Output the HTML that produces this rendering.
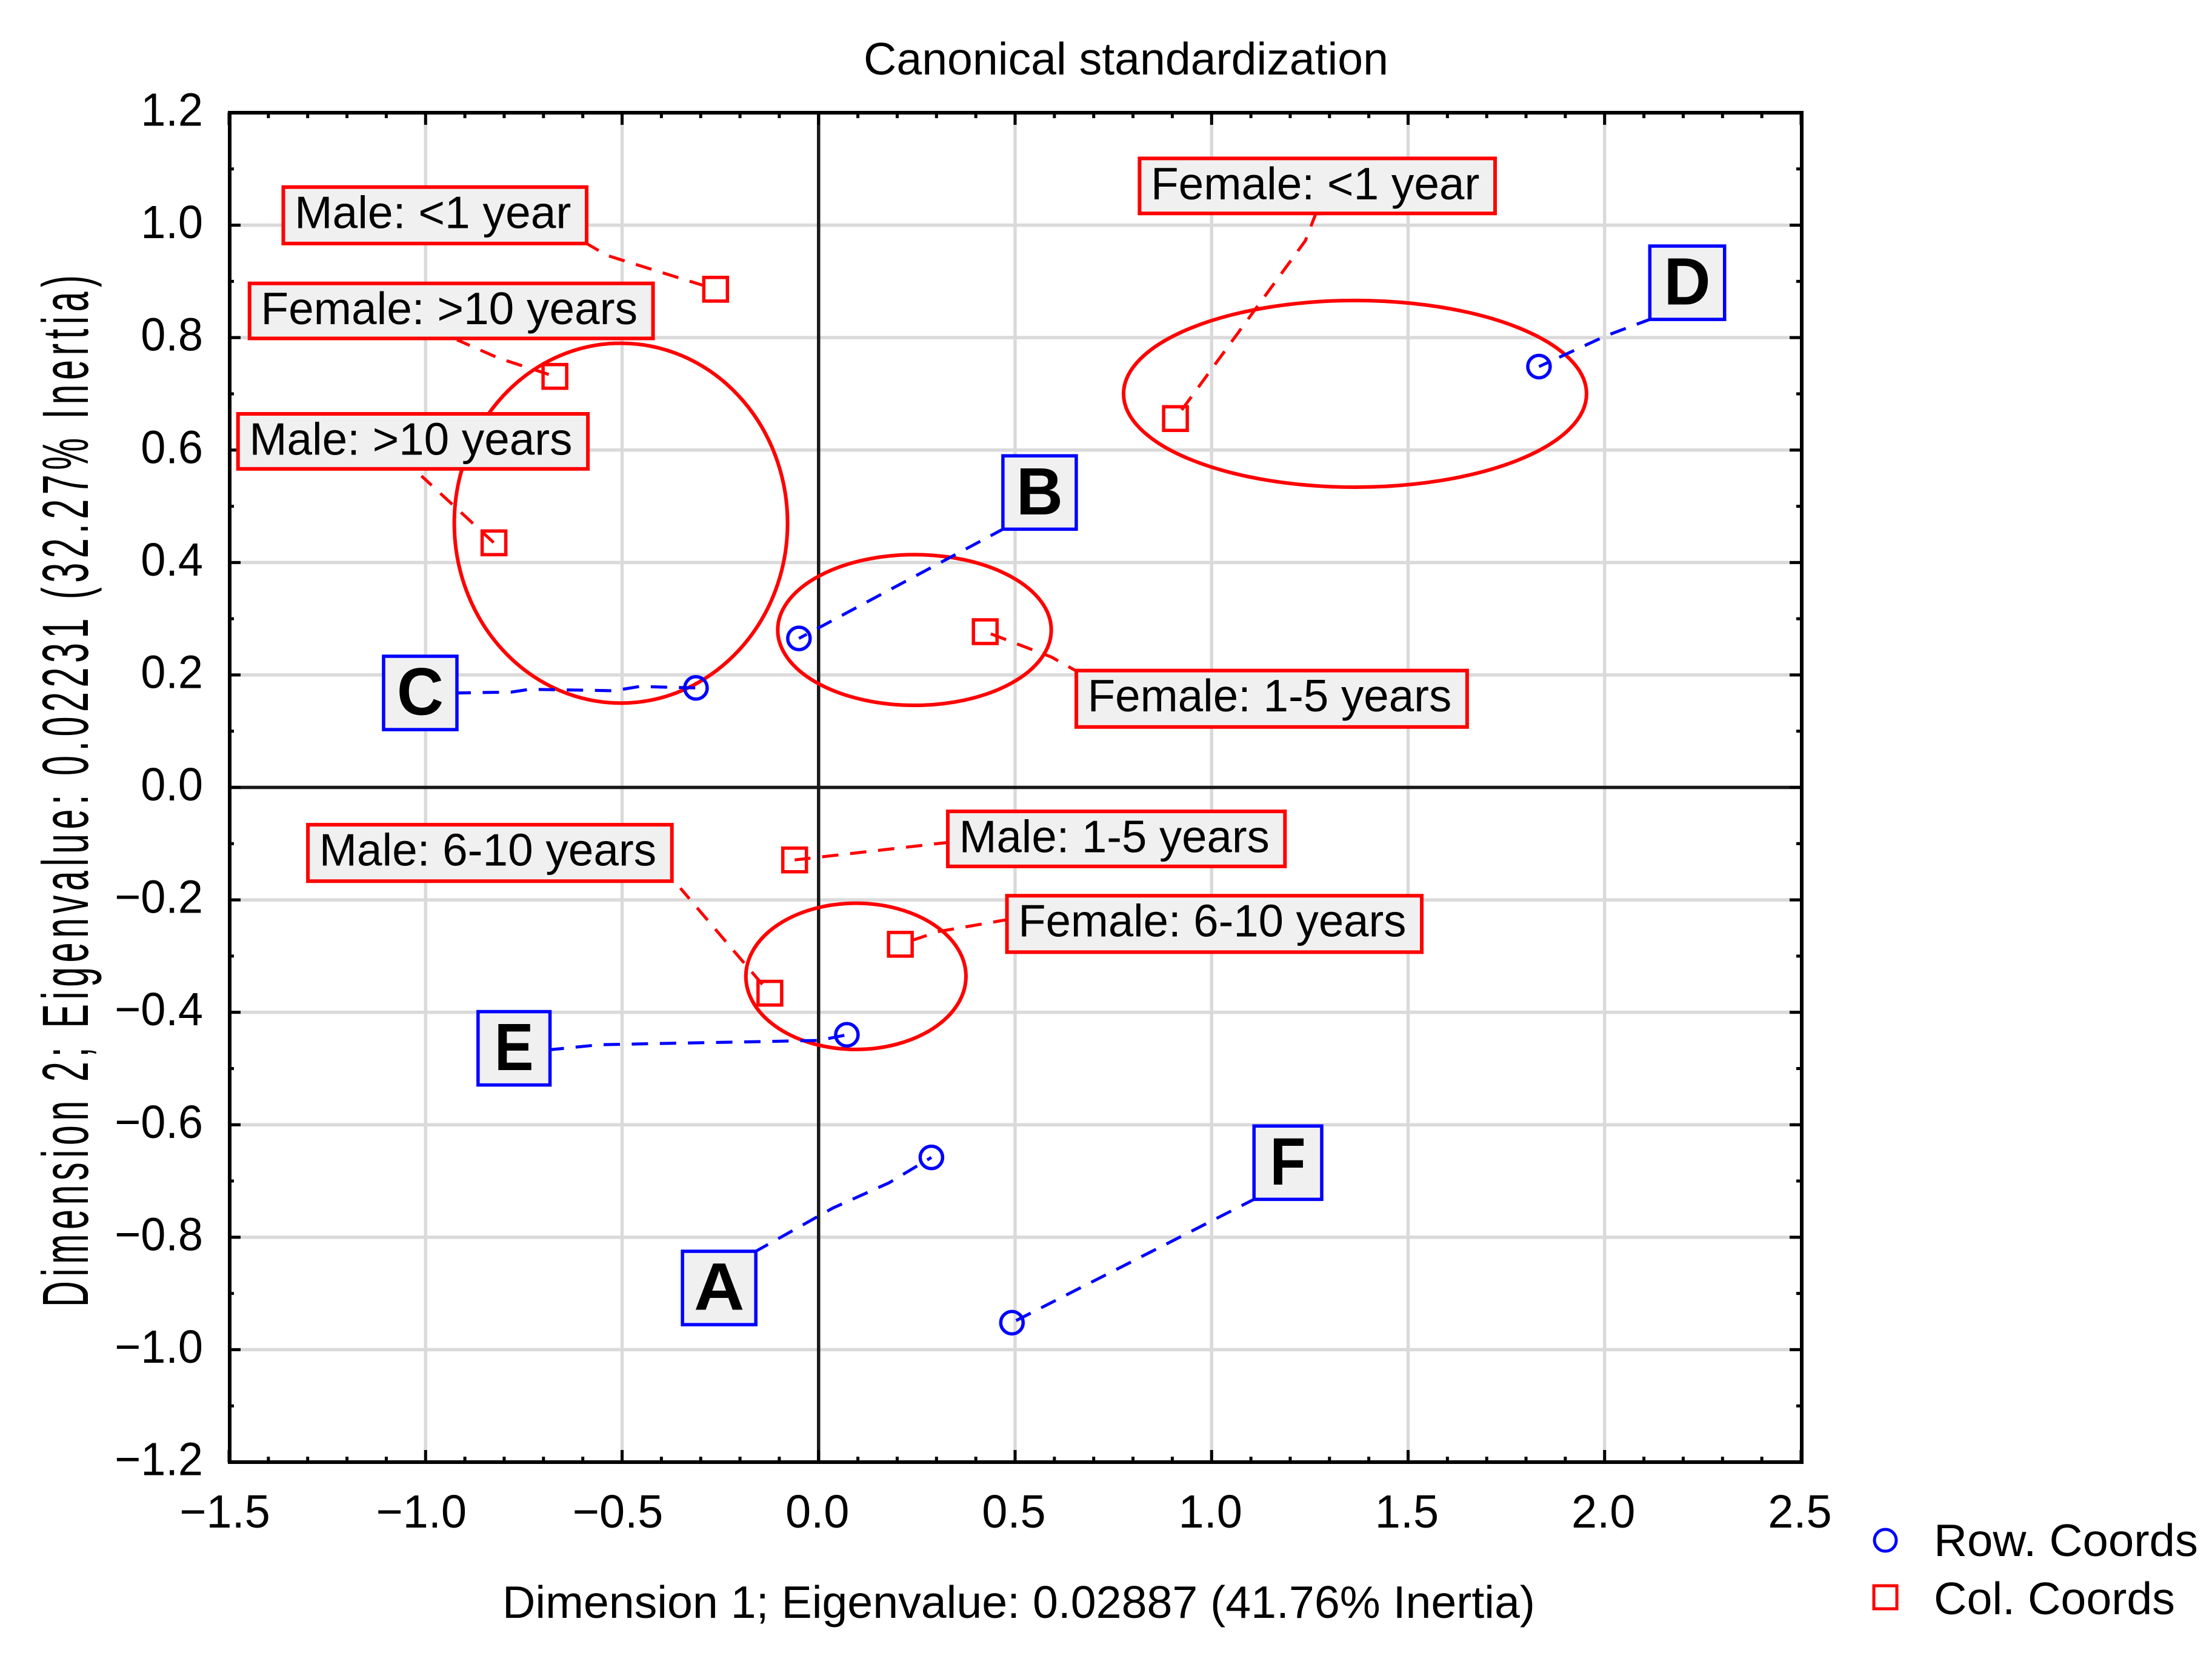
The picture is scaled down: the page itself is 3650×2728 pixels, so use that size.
<!DOCTYPE html>
<html lang="en">
<head>
<meta charset="utf-8">
<title>Canonical standardization</title>
<style>
html,body{margin:0;padding:0;background:#fff;}
svg{display:block;}
text{font-family:"Liberation Sans",Arial,sans-serif;fill:#000;}
</style>
</head>
<body>
<svg id="chart" xmlns="http://www.w3.org/2000/svg" width="3650" height="2728" viewBox="0 0 3650 2728">
  <rect x="0" y="0" width="3650" height="2728" fill="#fff"/>
  <text x="1858" y="123" font-size="75" text-anchor="middle" textLength="866" lengthAdjust="spacingAndGlyphs">Canonical standardization</text>
  <text x="1681" y="2670" font-size="75" text-anchor="middle" textLength="1704" lengthAdjust="spacingAndGlyphs">Dimension 1; Eigenvalue: 0.02887 (41.76% Inertia)</text>
  <text transform="translate(145 2157) rotate(-90) scale(0.55 1)" x="0" y="0" font-size="108" letter-spacing="13.6">Dimension 2; Eigenvalue: 0.02231 (32.27% Inertia)</text>
  <g id="plot"></g>
  <g>
    <g>
      <circle cx="3111" cy="2542" r="18" fill="none" stroke="#0000ff" stroke-width="5"/>
      <text x="3191" y="2568" font-size="75" textLength="436" lengthAdjust="spacingAndGlyphs">Row. Coords</text>
    </g>
    <g>
      <rect x="3092" y="2617" width="38" height="38" fill="none" stroke="#ff0000" stroke-width="5"/>
      <text x="3191" y="2664" font-size="75" textLength="398" lengthAdjust="spacingAndGlyphs">Col. Coords</text>
    </g>
  </g>
</svg>
<script>
// ---- chart data ----
const xTickValues = [-1.5, -1.0, -0.5, 0.0, 0.5, 1.0, 1.5, 2.0, 2.5];
const xTickLabels = ["\u22121.5", "\u22121.0", "\u22120.5", "0.0", "0.5", "1.0", "1.5", "2.0", "2.5"];
const yTickValues = [1.2, 1.0, 0.8, 0.6, 0.4, 0.2, 0.0, -0.2, -0.4, -0.6, -0.8, -1.0, -1.2];
const yTickLabels = ["1.2", "1.0", "0.8", "0.6", "0.4", "0.2", "0.0", "\u22120.2", "\u22120.4", "\u22120.6", "\u22120.8", "\u22121.0", "\u22121.2"];

const rowNames = ["A", "B", "C", "D", "E", "F"];
const rowDim1 = [0.287, -0.05, -0.312, 1.833, 0.072, 0.492];
const rowDim2 = [-0.658, 0.265, 0.177, 0.7485, -0.44, -0.952];

const colNames = ["Male: <1 year", "Female: >10 years", "Male: >10 years", "Female: <1 year", "Female: 1-5 years", "Male: 1-5 years", "Female: 6-10 years", "Male: 6-10 years"];
const colDim1 = [-0.262, -0.671, -0.826, 0.908, 0.424, -0.061, 0.208, -0.124];
const colDim2 = [0.886, 0.731, 0.435, 0.656, 0.277, -0.129, -0.279, -0.366];

const ellipseCx = [-0.503, 0.244, 1.365, 0.095];
const ellipseCy = [0.47, 0.28, 0.70, -0.336];
const ellipseRx = [0.424, 0.348, 0.589, 0.28];
const ellipseRy = [0.32, 0.134, 0.166, 0.13];

// ---- axis functions ----
const PLOT = {left: 378, right: 2972, top: 186, bottom: 2413};
const xMin = xTickValues[0], xMax = xTickValues[xTickValues.length - 1];
const yMax = yTickValues[0], yMin = yTickValues[yTickValues.length - 1];
function sx(v) { return PLOT.left + (v - xMin) / (xMax - xMin) * (PLOT.right - PLOT.left); }
function sy(v) { return PLOT.top + (yMax - v) / (yMax - yMin) * (PLOT.bottom - PLOT.top); }

// ---- callout layout: offsets from each point, not data ----
const U = 2.328;
const BOX_SHIFT_X = -1;
const BOX_SHIFT_Y = -1;
const colCallouts = [
  {dx:-306, dy:-72,  w:215, h:40, sx:215, sy:40, bends:[[-77,-24]]},
  {dx:-216, dy:-65.5,w:286, h:39, sx:147, sy:40, bends:[[-40,-13]]},
  {dx:-181, dy:-91,  w:248, h:39, sx:130, sy:44, bends:[]},
  {dx:-25,  dy:-184, w:252, h:39, sx:125, sy:39, bends:[[92,-126]]},
  {dx:65,   dy:28,   w:277, h:40, sx:3,   sy:2,  bends:[[47,18]]},
  {dx:109,  dy:-34,  w:239, h:39, sx:0,   sy:22, bends:[]},
  {dx:76,   dy:-34,  w:294, h:40, sx:0,   sy:17, bends:[[27,-9]]},
  {dx:-327, dy:-119, w:258, h:40, sx:264, sy:45, bends:[]}
];
const rowCallouts = [
  {dx:-176, dy:67,   w:52, h:52, sx:52, sy:0,  fit:1.05, bends:[[-30,18],[-70,36]]},
  {dx:145,  dy:-129, w:52, h:52, sx:0,  sy:52, fit:0.97, bends:[]},
  {dx:-221, dy:-22,  w:52, h:52, sx:52, sy:26, fit:0.97, bends:[[-40,-1],[-58,2],[-118,1],[-131,3]]},
  {dx:79,   dy:-85,  w:53, h:52, sx:0,  sy:52, fit:0.97, bends:[[48,-22]]},
  {dx:-261, dy:-16,  w:51, h:52, sx:51, sy:27, fit:0.88, bends:[[-20,4],[-175,7]]},
  {dx:172,  dy:-139, w:48, h:52, sx:0,  sy:52, fit:0.88, bends:[]}
];

const NS = "http://www.w3.org/2000/svg";
const plot = document.getElementById("plot");
function make(tag, attrs, parent) {
  const e = document.createElementNS(NS, tag);
  for (const k in attrs) e.setAttribute(k, attrs[k]);
  (parent || plot).appendChild(e);
  return e;
}
function slug(s) {
  return s.toLowerCase().replace(/</g, "under-").replace(/>/g, "over-").replace(/[^a-z0-9-]+/g, "-").replace(/-+/g, "-").replace(/^-|-$/g, "");
}

// ---- grid ----
xTickValues.forEach(function (v) {
  if (v === xMin || v === xMax || v === 0) return;
  const line = make("line", {x1: sx(v), x2: sx(v), y1: PLOT.top, y2: PLOT.bottom, stroke: "#dadada", "stroke-width": 5.5});
  
  
});
yTickValues.forEach(function (v) {
  if (v === yMin || v === yMax || v === 0) return;
  const line = make("line", {x1: PLOT.left, x2: PLOT.right, y1: sy(v), y2: sy(v), stroke: "#dadada", "stroke-width": 5.5});
  
  
});

// ---- zero lines ----
const zeroX = make("line", {x1: sx(0), x2: sx(0), y1: PLOT.top, y2: PLOT.bottom, stroke: "#1a1a1a", "stroke-width": 5.5});


const zeroY = make("line", {x1: PLOT.left, x2: PLOT.right, y1: sy(0), y2: sy(0), stroke: "#1a1a1a", "stroke-width": 5.5});



// ---- ticks ----
function tickX(v, len) {
  [[PLOT.bottom, -1], [PLOT.top, 1]].forEach(function (edge) {
    const t = make("line", {x1: sx(v), x2: sx(v), y1: edge[0], y2: edge[0] + edge[1] * len, stroke: "#000", "stroke-width": 5});
    
    
  });
}
function tickY(v, len) {
  [[PLOT.left, 1], [PLOT.right, -1]].forEach(function (edge) {
    const t = make("line", {x1: edge[0], x2: edge[0] + edge[1] * len, y1: sy(v), y2: sy(v), stroke: "#000", "stroke-width": 5});
    
    
  });
}
xTickValues.forEach(function (v, i) {
  tickX(v, 20);
  if (i < xTickValues.length - 1) {
    const step = (xTickValues[i + 1] - v) / 5;
    for (let k = 1; k < 5; k++) tickX(v + k * step, 9);
  }
  const label = make("text", {x: sx(v) + (v < 0 ? -7 : -2), y: 2521, "font-size": 77, "text-anchor": "middle"});
  label.textContent = xTickLabels[i];
  
  
  label.setAttribute("textLength", (label.getComputedTextLength() * 0.985).toFixed(1));
  label.setAttribute("lengthAdjust", "spacingAndGlyphs");
});
yTickValues.forEach(function (v, i) {
  tickY(v, 19);
  if (i < yTickValues.length - 1) tickY((v + yTickValues[i + 1]) / 2, 8);
  const label = make("text", {x: 335, y: sy(v) + 21.5, "font-size": 77, "text-anchor": "end"});
  label.textContent = yTickLabels[i];
  
  
  label.setAttribute("textLength", (label.getComputedTextLength() * 0.96).toFixed(1));
  label.setAttribute("lengthAdjust", "spacingAndGlyphs");
});

// ---- frame ----
const frame = make("rect", {x: PLOT.left + 1, y: PLOT.top, width: PLOT.right - PLOT.left, height: PLOT.bottom - PLOT.top, fill: "none", stroke: "#000", "stroke-width": 6});



// ---- group ellipses ----
ellipseCx.forEach(function (c, i) {
  const e = make("ellipse", {
    cx: sx(c), cy: sy(ellipseCy[i]),
    rx: sx(c + ellipseRx[i]) - sx(c), ry: sy(ellipseCy[i] - ellipseRy[i]) - sy(ellipseCy[i]),
    fill: "none", stroke: "#ff0000", "stroke-width": 6
  });
  
  
});

// ---- leaders, boxes and markers ----
function leaderPath(px, py, box, c) {
  const pts = [[box.x + c.sx * U, box.y + c.sy * U]];
  c.bends.slice().reverse().forEach(function (b) { pts.push([px + b[0] * U, py + b[1] * U]); });
  pts.push([px, py]);
  return pts.map(function (p) { return p[0].toFixed(1) + "," + p[1].toFixed(1); }).join(" ");
}

colNames.forEach(function (name, i) {
  const c = colCallouts[i], px = sx(colDim1[i]), py = sy(colDim2[i]);
  const box = {x: px + c.dx * U + BOX_SHIFT_X, y: py + c.dy * U + BOX_SHIFT_Y};
  const leader = make("polyline", {points: leaderPath(px, py, box, c), fill: "none", stroke: "#ff0000", "stroke-width": 5, "stroke-dasharray": "27 19.4", "stroke-dashoffset": 4});
  
  
  const marker = make("rect", {x: px - 19.5, y: py - 19.5, width: 39, height: 39, fill: "none", stroke: "#ff0000", "stroke-width": 5.5});
  
  
  const rect = make("rect", {x: box.x, y: box.y, width: c.w * U, height: c.h * U, fill: "#f0f0f0", stroke: "#ff0000", "stroke-width": 6});
  
  
  const label = make("text", {x: box.x + 8 * U, y: box.y + 29 * U, "font-size": 75, textLength: ((c.w - 19) * U).toFixed(1), lengthAdjust: "spacingAndGlyphs"});
  label.textContent = name;
  
  
});

rowNames.forEach(function (name, i) {
  const c = rowCallouts[i], px = sx(rowDim1[i]), py = sy(rowDim2[i]);
  const box = {x: px + c.dx * U + BOX_SHIFT_X, y: py + c.dy * U + BOX_SHIFT_Y};
  const leader = make("polyline", {points: leaderPath(px, py, box, c), fill: "none", stroke: "#0000ff", "stroke-width": 5, "stroke-dasharray": "27 19.4", "stroke-dashoffset": 4});
  
  
  const marker = make("circle", {cx: px, cy: py, r: 18.5, fill: "none", stroke: "#0000ff", "stroke-width": 5.5});
  
  
  const rect = make("rect", {x: box.x, y: box.y, width: c.w * U, height: c.h * U, fill: "#f0f0f0", stroke: "#0000ff", "stroke-width": 5.5});
  
  
  const label = make("text", {x: box.x + c.w * U / 2, y: box.y + 41.5 * U, "font-size": 110, "font-weight": "bold", "text-anchor": "middle"});
  label.textContent = name;
  
  
  label.setAttribute("textLength", (label.getComputedTextLength() * c.fit).toFixed(1));
  label.setAttribute("lengthAdjust", "spacingAndGlyphs");
});
</script>
</body>
</html>
